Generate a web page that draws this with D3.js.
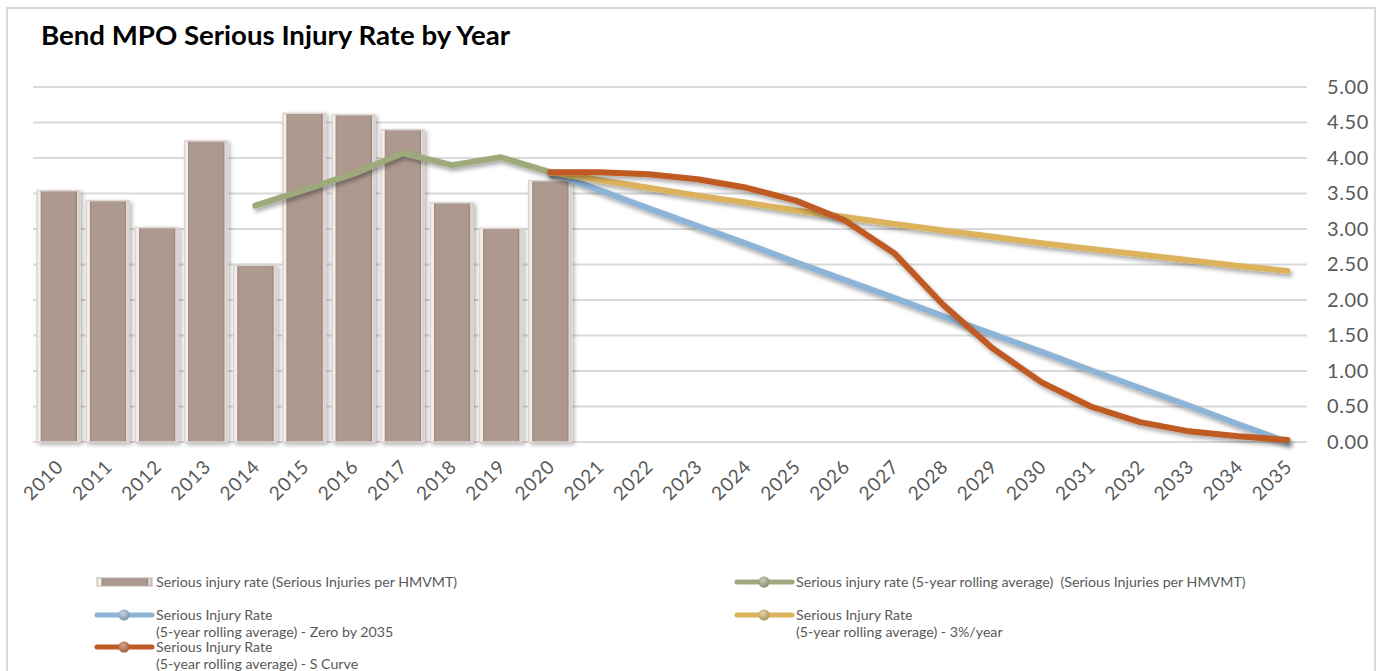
<!DOCTYPE html>
<html><head><meta charset="utf-8">
<script src="https://cdn.jsdelivr.net/npm/d3@7"></script>
<style>
html,body{margin:0;padding:0;background:#fff;}
svg{display:block;}
text{font-family:Lato,"Noto Sans",sans-serif;}
</style></head>
<body>
<svg id="chart" width="1382" height="671"></svg>
<script>
const years = ["2010","2011","2012","2013","2014","2015","2016","2017","2018","2019","2020","2021","2022","2023","2024","2025","2026","2027","2028","2029","2030","2031","2032","2033","2034","2035"];
const barYears = ["2010","2011","2012","2013","2014","2015","2016","2017","2018","2019","2020"];
const barValues = [3.54,3.40,3.02,4.24,2.49,4.63,4.61,4.40,3.37,3.01,3.68];
const rollYears = ["2014","2015","2016","2017","2018","2019","2020"];
const rollValues = [3.33,3.55,3.78,4.07,3.90,4.01,3.80];
const projYears = ["2020","2021","2022","2023","2024","2025","2026","2027","2028","2029","2030","2031","2032","2033","2034","2035"];
const zeroValues = [3.80,3.55,3.29,3.04,2.79,2.53,2.28,2.03,1.77,1.52,1.27,1.01,0.76,0.51,0.25,0.00];
const pctValues  = [3.80,3.69,3.58,3.47,3.37,3.26,3.17,3.07,2.98,2.89,2.80,2.72,2.64,2.56,2.48,2.41];
const sValues    = [3.80,3.80,3.77,3.70,3.58,3.40,3.12,2.66,1.93,1.32,0.84,0.50,0.28,0.15,0.08,0.03];
const yTicks = [0,0.5,1,1.5,2,2.5,3,3.5,4,4.5,5];
const title = "Bend MPO Serious Injury Rate by Year";
const legendLabels = [
  ["Serious injury rate (Serious Injuries per HMVMT)"],
  ["Serious injury rate (5-year rolling average)  (Serious Injuries per HMVMT)"],
  ["Serious Injury Rate","(5-year rolling average) - Zero by 2035"],
  ["Serious Injury Rate","(5-year rolling average) - 3%/year"],
  ["Serious Injury Rate","(5-year rolling average) - S Curve"]
];
const colors = {bar:"#ad998f", roll:"#9ea97c", zero:"#8db4d6", pct:"#dcb35b", s:"#bf5a22"};

const svg = d3.select("#chart");
const defs = svg.append("defs");
const sh = defs.append("filter").attr("id","shadow").attr("x","-10%").attr("y","-10%").attr("width","130%").attr("height","140%");
sh.append("feDropShadow").attr("dx",2).attr("dy",3).attr("stdDeviation",2).attr("flood-color","#000").attr("flood-opacity",0.35);
const bs = defs.append("filter").attr("id","barshadow").attr("x","-20%").attr("y","-5%").attr("width","150%").attr("height","115%");
bs.append("feDropShadow").attr("dx",2).attr("dy",2).attr("stdDeviation",2).attr("flood-color","#000").attr("flood-opacity",0.3);
const bg = defs.append("linearGradient").attr("id","bargrad").attr("x1",0).attr("x2",1).attr("y1",0).attr("y2",0);
bg.append("stop").attr("offset","0").attr("stop-color","#f4eeea");
bg.append("stop").attr("offset","0.07").attr("stop-color","#f4eeea");
bg.append("stop").attr("offset","0.09").attr("stop-color","#a38f85");
bg.append("stop").attr("offset","0.14").attr("stop-color",colors.bar);
bg.append("stop").attr("offset","0.88").attr("stop-color",colors.bar);
bg.append("stop").attr("offset","0.92").attr("stop-color","#9c877d");
bg.append("stop").attr("offset","0.94").attr("stop-color","#e3dcd8");
bg.append("stop").attr("offset","1").attr("stop-color","#cfc7c3");
const bl = defs.append("radialGradient").attr("id","ball").attr("cx","40%").attr("cy","35%").attr("r","60%");
bl.append("stop").attr("offset","0").attr("stop-color","#fff");
bl.append("stop").attr("offset","1").attr("stop-color","#777");

// frame
svg.append("rect").attr("x",7).attr("y",8).attr("width",1368).attr("height",680)
  .attr("fill","none").attr("stroke","#d9d9d9").attr("stroke-width",2);

svg.append("text").attr("x",41).attr("y",45).attr("font-size",26).attr("font-weight",700)
  .attr("textLength",469).attr("lengthAdjust","spacingAndGlyphs")
  .attr("fill","#000").text(title);

const x = d3.scaleBand().domain(years).range([34,1312]).paddingInner(0.13).paddingOuter(0.065);
const y = d3.scaleLinear().domain([0,5]).range([442,87]);
const cx = d => x(d) + x.bandwidth()/2;

// gridlines
svg.append("g").selectAll("line").data(yTicks).join("line")
  .attr("x1",33).attr("x2",1307).attr("y1",d=>y(d)).attr("y2",d=>y(d))
  .attr("stroke","#d9d9d9").attr("stroke-width",2);

// right axis
const yAxis = d3.axisRight(y).tickValues(yTicks).tickFormat(d3.format(".2f")).tickSize(0).tickPadding(0);
const gy = svg.append("g").attr("transform","translate(1327,0)").call(yAxis);
gy.select(".domain").remove();
gy.selectAll("text").attr("font-size",20).attr("letter-spacing","0.6px").attr("fill","#595959").attr("font-family","Lato,sans-serif");

// x axis
const xAxis = d3.axisBottom(x).tickSize(0).tickPadding(0);
const gx = svg.append("g").attr("transform","translate(0,460)").call(xAxis);
gx.select(".domain").remove();
gx.selectAll("text").attr("font-size",19).attr("letter-spacing","0.8px").attr("fill","#595959").attr("font-family","Lato,sans-serif")
  .attr("text-anchor","end").attr("dy","0").attr("transform","translate(6,8) rotate(-45)");

// bars
svg.append("g").selectAll("rect").data(barYears.map((d,i)=>({k:d,v:barValues[i]}))).join("rect")
  .attr("x",d=>x(d.k)).attr("width",x.bandwidth())
  .attr("y",d=>y(d.v)).attr("height",d=>y(0)-y(d.v))
  .attr("fill","url(#bargrad)").attr("stroke","#ddd5d1").attr("stroke-width",1.5)
  .attr("filter","url(#barshadow)");

// lines
const line = d3.line().x(d=>cx(d.k)).y(d=>y(d.v));
function drawLine(ks, vs, color){
  svg.append("path").datum(ks.map((k,i)=>({k:k,v:vs[i]})))
    .attr("d",line).attr("fill","none").attr("stroke",color).attr("stroke-width",6)
    .attr("stroke-linecap","round").attr("stroke-linejoin","round").attr("filter","url(#shadow)");
}
drawLine(rollYears, rollValues, colors.roll);
drawLine(projYears, zeroValues, colors.zero);
drawLine(projYears, pctValues, colors.pct);
drawLine(projYears, sValues, colors.s);

// legend
const lg = svg.append("g").attr("font-size",14.2).attr("fill","#595959");
const entries = [
  {c:colors.bar, bar:true, sx:97, sy:582},
  {c:colors.roll, sx:737, sy:582},
  {c:colors.zero, sx:97, sy:615},
  {c:colors.pct, sx:737, sy:615},
  {c:colors.s, sx:97, sy:647}
];
entries.forEach((e,i)=>{
  if(e.bar){
    lg.append("rect").attr("x",e.sx).attr("y",e.sy-4).attr("width",55).attr("height",8)
      .attr("fill","url(#bargrad)").attr("stroke","#bdb3ae").attr("stroke-width",1);
  } else {
    lg.append("line").attr("x1",e.sx).attr("x2",e.sx+55).attr("y1",e.sy).attr("y2",e.sy)
      .attr("stroke",e.c).attr("stroke-width",5).attr("stroke-linecap","round");
    lg.append("circle").attr("cx",e.sx+27).attr("cy",e.sy).attr("r",5.5).attr("fill",e.c);
    lg.append("circle").attr("cx",e.sx+27).attr("cy",e.sy).attr("r",5.5).attr("fill","url(#ball)").attr("opacity",0.45);
  }
  legendLabels[i].forEach((t,j)=>{
    lg.append("text").attr("x",e.sx+59).attr("y",e.sy+5+j*17).style("white-space","pre").text(t);
  });
});
</script>
</body></html>
